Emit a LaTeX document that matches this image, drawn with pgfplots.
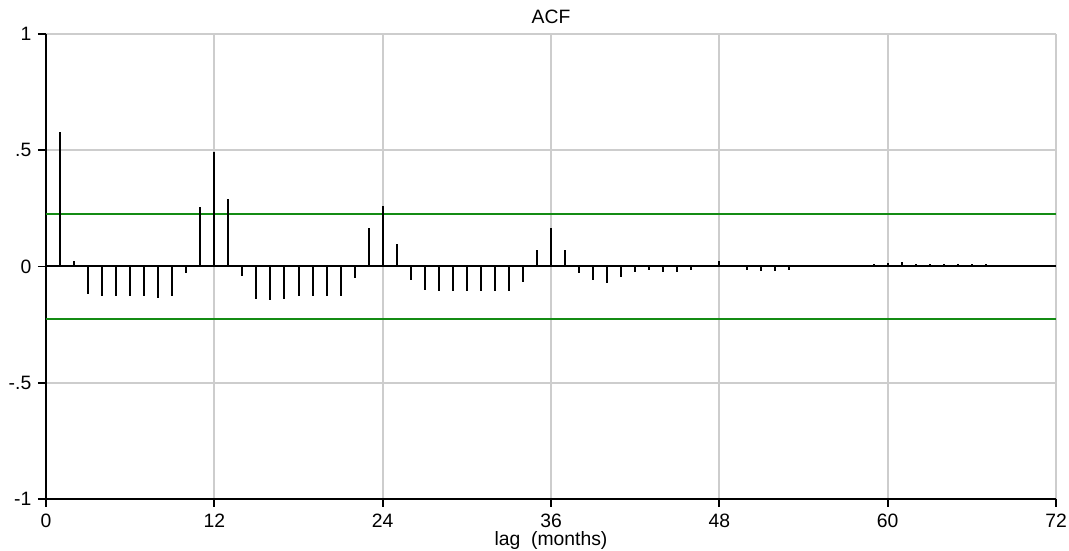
\documentclass[border=0pt]{standalone}
\usepackage{fontspec}
\setmainfont{Liberation Sans}
\usepackage{pgfplots}
\pgfplotsset{compat=1.18}
\usetikzlibrary{calc}

\definecolor{bandgreen}{RGB}{20,140,20}
\definecolor{gridgray}{RGB}{205,205,205}

% ACF values, lag 1..67
\pgfplotstableread{
lag acf
1 0.578
2 0.023
3 -0.120
4 -0.128
5 -0.128
6 -0.128
7 -0.128
8 -0.136
9 -0.128
10 -0.029
11 0.258
12 0.492
13 0.290
14 -0.039
15 -0.139
16 -0.146
17 -0.139
18 -0.127
19 -0.127
20 -0.127
21 -0.127
22 -0.050
23 0.165
24 0.259
25 0.095
26 -0.060
27 -0.100
28 -0.107
29 -0.107
30 -0.107
31 -0.107
32 -0.107
33 -0.107
34 -0.066
35 0.072
36 0.165
37 0.070
38 -0.030
39 -0.060
40 -0.069
41 -0.046
42 -0.022
43 -0.015
44 -0.022
45 -0.022
46 -0.015
47 0
48 0.022
49 0
50 -0.015
51 -0.020
52 -0.020
53 -0.013
54 0
55 0
56 0
57 0
58 0
59 0.010
60 0.015
61 0.020
62 0.010
63 0.010
64 0.010
65 0.010
66 0.010
67 0.010
}\acfdata

\begin{document}
\fontsize{14.5}{17}\selectfont
\begin{tikzpicture}
\begin{axis}[
    name=ax,
    scale only axis,
    width=757.5pt, height=348.75pt,
    xmin=0, xmax=72, ymin=-1, ymax=1,
    xtick={0,12,...,72},
    ytick={-1,-0.5,0,0.5,1},
    yticklabels={-1,-.5,0,.5,1},
    axis x line*=bottom, axis y line*=left,
    axis line style={black, line width=1.4pt},
    tick align=outside,
    major tick length=6pt,
    tick style={black, line width=1.4pt},
    grid=major,
    major grid style={gridgray, line width=1.3pt},
    xlabel={lag\ \ (months)},
    title={ACF},
    title style={yshift=-3pt},
    xlabel style={yshift=7pt},
    ticklabel style={font=\fontsize{14.5}{17}\selectfont},
    label style={font=\fontsize{14.5}{17}\selectfont},
    /pgf/number format/assume math mode=true,
    clip=false,
]
\addplot[bandgreen, line width=1.5pt] coordinates {(0,0.224) (72,0.224)};
\addplot[bandgreen, line width=1.5pt] coordinates {(0,-0.224) (72,-0.224)};
\addplot[black, line width=1.5pt] coordinates {(0,0) (72,0)};
\addplot[ycomb, black, line width=1.5pt, mark=none] table[x=lag, y=acf] {\acfdata};
\end{axis}
\pgfresetboundingbox
\path[use as bounding box] ($(ax.south west)+(-34.5pt,-39pt)$) rectangle ($(ax.north east)+(9.75pt,25.5pt)$);
\end{tikzpicture}
\end{document}
